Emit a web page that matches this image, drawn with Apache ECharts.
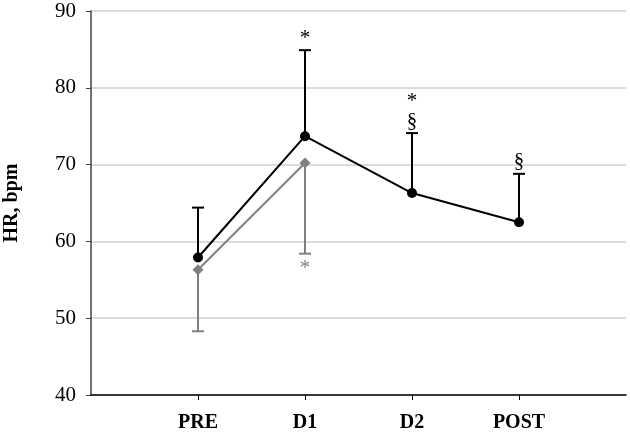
<!DOCTYPE html>
<html>
<head>
<meta charset="utf-8">
<script src="https://cdn.jsdelivr.net/npm/echarts@6/dist/echarts.min.js"></script>
<style>html,body{margin:0;padding:0;background:#fff}#c{width:630px;height:435px}</style>
</head>
<body>
<div id="c"></div>
<script>
var categories = ['PRE', 'D1', 'D2', 'POST'];
var blackMean = [57.9, 73.7, 66.3, 62.5];
var blackUpper = [64.4, 84.9, 74.1, 68.8];
var blackMarks = ['', '*', '*\n§', '§'];
var grayMean = [56.3, 70.2];
var grayLower = [48.3, 58.4];
var grayMarks = ['', '*'];
var yTicks = [40, 50, 60, 70, 80, 90];

var SERIF = '"Liberation Serif","Times New Roman",serif';

function pts(vals) { return vals.map(function (v, i) { return [i + 1, v]; }); }
function bars(mean, bound) {
  return mean.map(function (v, i) { return [i + 1, v, bound[i]]; });
}

function errRender(color, up, marks) {
  return function (params, api) {
    var x = api.value(0);
    var p0 = api.coord([x, api.value(1)]);
    var p1 = api.coord([x, api.value(2)]);
    var label = marks[params.dataIndex];
    var children = [
      { type: 'line', shape: { x1: p0[0], y1: p0[1], x2: p1[0], y2: p1[1] }, style: { stroke: color, lineWidth: 2 } },
      { type: 'line', shape: { x1: p1[0] - 6, y1: p1[1], x2: p1[0] + 6, y2: p1[1] }, style: { stroke: color, lineWidth: 2 } }
    ];
    if (label) {
      children.push({
        type: 'text',
        style: {
          text: label, x: p1[0], y: up ? p1[1] - 2 : p1[1] + 5,
          align: 'center', verticalAlign: up ? 'bottom' : 'top',
          font: '21px ' + SERIF, fill: color, lineHeight: 20
        }
      });
    }
    return { type: 'group', children: children };
  };
}

var chart = echarts.init(document.getElementById('c'));
chart.setOption({
  animation: false,
  grid: { left: 91, right: 4, top: 11, bottom: 40, containLabel: false, outerBoundsMode: 'none' },
  xAxis: {
    type: 'value', min: 0, max: 5, interval: 1,
    axisLine: { lineStyle: { color: '#000', width: 1.5 } },
    axisTick: { show: true, length: 5, inside: false, customValues: [1, 2, 3, 4], lineStyle: { color: '#000' } },
    splitLine: { show: false },
    axisLabel: {
      customValues: [1, 2, 3, 4],
      formatter: function (v) { return categories[v - 1] || ''; },
      fontFamily: SERIF, fontWeight: 'bold', fontSize: 20, color: '#000', margin: 18
    }
  },
  yAxis: {
    type: 'value', min: 40, max: 90, interval: 10,
    name: 'HR, bpm', nameLocation: 'middle', nameGap: 69, nameRotate: 90,
    nameTextStyle: { fontFamily: SERIF, fontWeight: 'bold', fontSize: 20, color: '#000' },
    axisLine: { show: true, lineStyle: { color: '#404040', width: 1.5 } },
    axisTick: { show: true, length: 5, lineStyle: { color: '#404040' } },
    splitLine: { show: true, lineStyle: { color: '#d0d0d0', width: 1.5 } },
    axisLabel: {
      fontFamily: SERIF, fontSize: 21, color: '#000', margin: 15,
      formatter: function (v) { return yTicks.indexOf(v) >= 0 ? String(v) : ''; }
    }
  },
  series: [
    {
      type: 'custom', renderItem: errRender('#808080', false, grayMarks),
      data: bars(grayMean, grayLower), z: 2, silent: true
    },
    {
      type: 'custom', renderItem: errRender('#000', true, blackMarks),
      data: bars(blackMean, blackUpper), z: 2, silent: true
    },
    {
      type: 'line', data: pts(grayMean), symbol: 'diamond', symbolSize: 11,
      lineStyle: { color: '#808080', width: 2 }, itemStyle: { color: '#808080' }, z: 3
    },
    {
      type: 'line', data: pts(blackMean), symbol: 'circle', symbolSize: 10,
      lineStyle: { color: '#000', width: 2 }, itemStyle: { color: '#000' }, z: 4
    }
  ]
});
</script>
</body>
</html>
